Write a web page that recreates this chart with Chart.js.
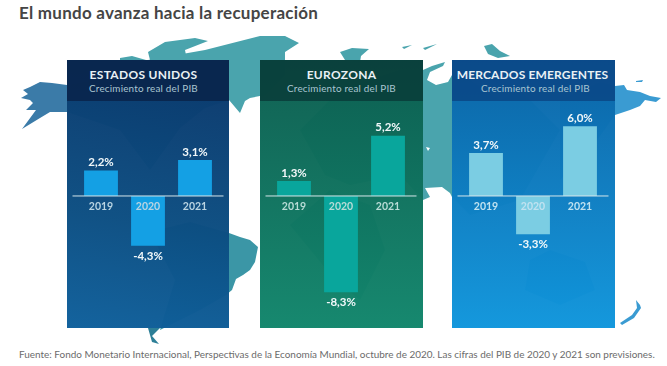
<!DOCTYPE html>
<html lang="es">
<head>
<meta charset="utf-8">
<title>El mundo avanza hacia la recuperación</title>
<script src="https://cdn.jsdelivr.net/npm/chart.js@4"></script>
<style>
html, body { margin: 0; padding: 0; background: #fff; }
#page { position: relative; width: 667px; height: 366px; overflow: hidden; font-family: Lato, sans-serif; }
#title { position: absolute; left: 19px; top: 2px; font-size: 17px; font-weight: 700; color: #454545; white-space: nowrap; letter-spacing: .25px; }
#source { position: absolute; left: 19px; top: 348px; font-size: 9.95px; color: #6b6b6b; white-space: nowrap; }
#map { position: absolute; left: 0; top: 0; filter: blur(.4px); }
.panel { position: absolute; top: 60px; width: 162px; height: 268px; }
.panel canvas { position: absolute; left: 0; top: 0; }
.band { position: absolute; left: 0; top: 0; width: 100%; height: 41px; text-align: center; box-sizing: border-box; }
.band b { display: block; margin-top: 8px; font-size: 12px; line-height: 14px; color: #e9f1f5; letter-spacing: .3px; white-space: nowrap; }
.band span { display: block; font-size: 9.9px; line-height: 12px; color: #a9c6d2; letter-spacing: .2px; white-space: nowrap; }
#p1 { left: 67px; background: linear-gradient(190deg, rgba(10,58,110,.98) 10%, rgba(12,78,130,.98) 60%, rgba(15,96,156,.98)); }
#p1 .band { background: rgba(8,34,72,.82); padding-right: 9px; }
#p2 { left: 260px; width: 163px; background: linear-gradient(180deg, rgba(12,94,80,.98), rgba(18,134,108,.98)); }
#p2 .band { background: rgba(9,58,56,.82); }
#p3 { left: 452px; width: 163px; background: linear-gradient(180deg, rgba(11,100,166,.98), rgba(16,150,220,.98)); }
#p3 .band { background: rgba(10,66,130,.78); }
#p3 .band b { letter-spacing: .15px; margin-right: 2px; }
#p3 .band span { margin-left: 4px; }
</style>
</head>
<body>
<div id="page">
  <svg id="map" width="667" height="366" viewBox="0 0 667 366">
    <g fill="#3b7ba8">
      <path d="M67 85 L52 83 L40 82 L30 87 L23 90 L28 94 L21 98 L30 100 L33 103 L26 110 L36 110 L22 129 L40 118 L50 112 L67 112 Z"/>
    </g>
    <g fill="#4aa4ad">
      <path d="M67 85 L110 78 L148 60 L205 50 L260 36 L285 36 L299 43 L285 52 L285 75 L265 95 L250 98 L245 101 L240 113 L229 100 L205 108 L180 128 L150 170 L120 130 L67 112 Z"/>
      <path d="M148 52 L165 42 L195 38 L208 41 L185 50 L187 60 L150 60 Z"/>
      <path d="M120 58 L132 56 L146 60 L120 60 Z"/>
      <path d="M340 52 L352 48 L369 49 L361 56 L360 62 L345 60 Z"/>
      <path d="M402 47 L412 45 L404 49 Z M423 48 L437 44 L425 50 Z"/>
      <path d="M484 46 L492 44 L500 51 L510 56 L498 58 L488 54 Z"/>
      <path d="M423 70 L432 66 L445 62 L443 66 L430 72 L427 80 L436 85 L448 82 L452 75 L470 80 L500 100 L520 90 L560 130 L520 200 L470 215 L452 197 L450 193 L442 187 L425 188 L430 197 L423 200 L400 175 L350 185 L325 175 L300 130 L340 90 L400 70 Z"/>
    </g>
    <path d="M426 147 L430 148 L428 151 Z" fill="#fff"/>
    <g fill="#3a9bd2">
      <path d="M560 100 L600 82 L615 86 L624 85 L627 90 L640 92 L650 96 L661 98 L656 102 L645 100 L640 106 L630 110 L615 115 L590 150 L560 180 Z"/>
      <path d="M636 81 L643 80 L642 82 L636 82 Z"/>
      <path d="M620 323 L632 315 L637 308 L636 300 L640 305 L641 308 L634 318 L622 325 Z"/>
      <path d="M530 260 L550 250 L585 262 L595 290 L560 305 L525 290 Z"/>
    </g>
    <g fill="#2d7f97">
      <path d="M148 328 L160 328 L152 336 L159 344 L152 342 Z"/>
    </g>
    <g fill="#3b96a6">
      <path d="M150 232 L190 222 L229 233 L240 237 L250 240 L258 247 L255 262 L250 270 L243 275 L236 279 L232 290 L226 295 L200 310 L160 330 L175 280 Z"/>
      <path d="M290 225 L330 190 L370 205 L385 250 L360 300 L335 280 Z"/>
    </g>
  </svg>

  <div id="title">El mundo avanza hacia la recuperación</div>

  <div class="panel" id="p1">
    <div class="band"><b>ESTADOS UNIDOS</b><span>Crecimiento real del PIB</span></div>
    <canvas id="chartUS" width="162" height="268"></canvas>
  </div>
  <div class="panel" id="p2">
    <div class="band"><b>EUROZONA</b><span>Crecimiento real del PIB</span></div>
    <canvas id="chartEZ" width="163" height="268"></canvas>
  </div>
  <div class="panel" id="p3">
    <div class="band"><b>MERCADOS EMERGENTES</b><span>Crecimiento real del PIB</span></div>
    <canvas id="chartEM" width="163" height="268"></canvas>
  </div>

  <div id="source">Fuente: Fondo Monetario Internacional, Perspectivas de la Economía Mundial, octubre de 2020. Las cifras del PIB de 2020 y 2021 son previsiones.</div>
</div>

<script>
// Data
const years = ['2019', '2020', '2021'];
const usValues = [2.2, -4.3, 3.1];
const ezValues = [1.3, -8.3, 5.2];
const emValues = [3.7, -3.3, 6.0];

// zero line and the value labels on top of the bars
const barLabels = {
    id: 'barLabels',
    afterDatasetsDraw(chart) {
        const c = chart.ctx;
        const y0 = chart.scales.y.getPixelForValue(0);
        c.save();
        c.strokeStyle = '#d5e6ea';
        c.lineWidth = 1;
        c.beginPath();
        c.moveTo(chart.chartArea.left - 5, y0);
        c.lineTo(chart.chartArea.right + 5, y0);
        c.stroke();

        c.fillStyle = '#f2f8fa';
        c.font = '700 11.5px Lato';
        c.textAlign = 'center';
        c.textBaseline = 'middle';
        const values = chart.data.datasets[0].data;
        chart.getDatasetMeta(0).data.forEach(function (bar, i) {
            const text = values[i].toFixed(1).replace('.', ',') + '%';
            const y = values[i] < 0 ? bar.y + 10 : bar.y - 8;
            c.fillText(text, bar.x, y);
        });
        c.restore();
    }
};

function makeChart(id, values, barColor, tickColor) {
    const canvas = document.getElementById(id);
    return new Chart(canvas, {
        type: 'bar',
        data: {
            labels: years,
            datasets: [{
                data: values,
                backgroundColor: barColor,
                barPercentage: 0.72,
                categoryPercentage: 1
            }]
        },
        plugins: [barLabels],
        options: {
            responsive: false,
            animation: false,
            layout: { padding: { left: 10.5, right: canvas.width - 151.5, top: 0, bottom: 0 } },
            plugins: { legend: { display: false }, tooltip: { enabled: false } },
            scales: {
                x: {
                    position: { y: 0 },
                    afterFit(scale) { scale.height = 0; },
                    grid: { display: false, drawTicks: false },
                    border: { display: false },
                    ticks: { color: tickColor, font: { family: 'Lato', size: 10.5, weight: '700' }, padding: 4, z: 1, maxRotation: 0 }
                },
                y: {
                    display: false,
                    min: -11.38,
                    max: 11.72
                }
            }
        }
    });
}

makeChart('chartUS', usValues, '#14a0e4', '#b9d4e2');
makeChart('chartEZ', ezValues, '#09a69c', '#b8dcd6');
makeChart('chartEM', emValues, '#7bcde3', '#c0e2f0');
</script>
</body>
</html>
